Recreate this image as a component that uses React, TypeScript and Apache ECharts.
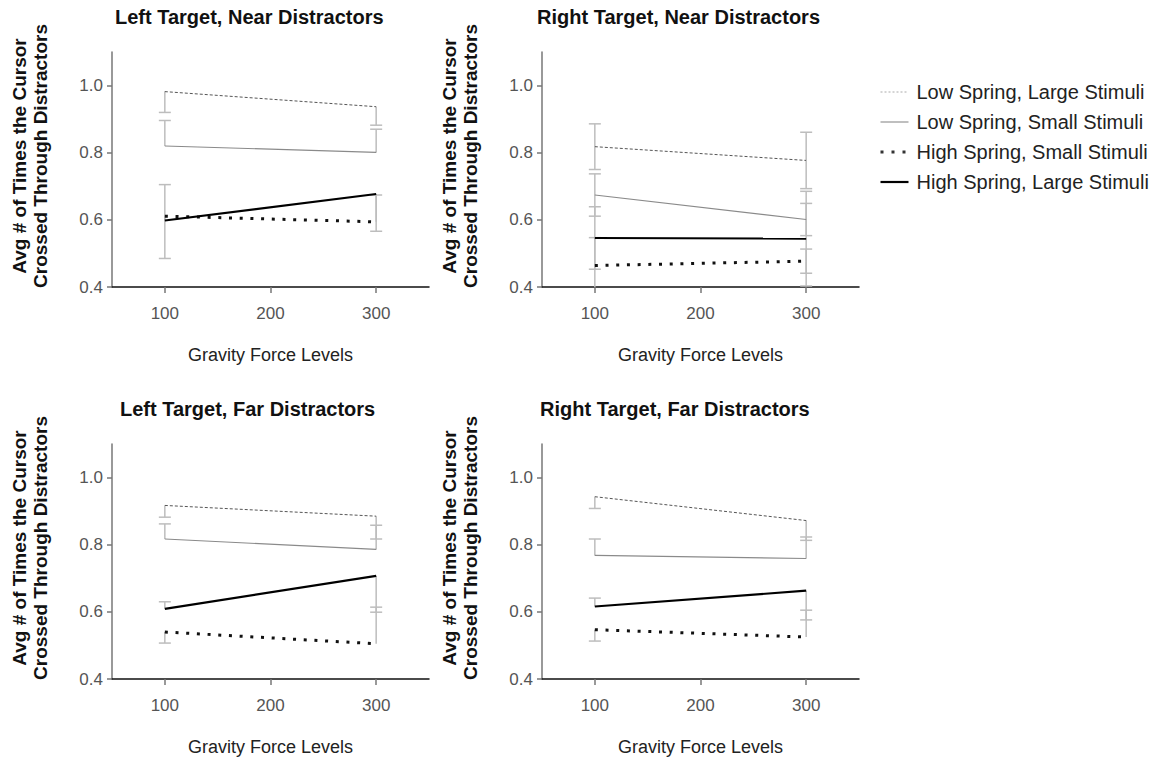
import React, { useEffect, useRef } from "react";
import * as echarts from "echarts";

const gravityLevels = [100, 300];
const xTickValues = [100, 200, 300];
const yTickValues = [0.4, 0.6, 0.8, 1.0];

const seriesNames = [
  "Low Spring, Large Stimuli",
  "Low Spring, Small Stimuli",
  "High Spring, Small Stimuli",
  "High Spring, Large Stimuli",
];

const panelTitles = [
  "Left Target, Near Distractors",
  "Right Target, Near Distractors",
  "Left Target, Far Distractors",
  "Right Target, Far Distractors",
];

const yAxisTitle = "Avg # of Times the Cursor\nCrossed Through Distractors";
const xAxisTitle = "Gravity Force Levels";

// means, order: LSL, LSS, HSS, HSL ; values at gravity 100 and 300
const leftNearMeans = [[0.982, 0.937], [0.820, 0.801], [0.611, 0.594], [0.598, 0.677]];
const rightNearMeans = [[0.818, 0.777], [0.674, 0.601], [0.464, 0.477], [0.546, 0.544]];
const leftFarMeans = [[0.917, 0.885], [0.817, 0.786], [0.540, 0.505], [0.609, 0.707]];
const rightFarMeans = [[0.943, 0.872], [0.768, 0.759], [0.547, 0.525], [0.616, 0.663]];

// error bar ends (capped ends), per series, per gravity level
const leftNearErrEnds = [[[0.920], [0.882]], [[0.896], [0.870]], [[0.485], [0.674]], [[0.705], [0.566]]];
const rightNearErrEnds = [
  [[0.886, 0.750], [0.861, 0.693]],
  [[0.737, 0.611], [0.649, 0.553]],
  [[0.547, 0.381], [0.513, 0.441]],
  [[0.639, 0.453], [0.685, 0.403]],
];
const leftFarErrEnds = [[[0.882], [0.817]], [[0.862], [0.858]], [[0.507], [0.614]], [[0.630], [0.599]]];
const rightFarErrEnds = [[[0.908], [0.813]], [[0.817], [0.823]], [[0.513], [0.605]], [[0.641], [0.576]]];

const panelMeans = [leftNearMeans, rightNearMeans, leftFarMeans, rightFarMeans];
const panelErrEnds = [leftNearErrEnds, rightNearErrEnds, leftFarErrEnds, rightFarErrEnds];

const FONT = "'Liberation Sans', Arial, Helvetica, sans-serif";
const Y_MIN = 0.4;
const Y_MAX = 1.1;

const grids = [
  { left: 112, top: 52, width: 317, height: 235 },
  { left: 542, top: 52, width: 317, height: 235 },
  { left: 112, top: 444, width: 317, height: 235 },
  { left: 542, top: 444, width: 317, height: 235 },
];
const titlePos = [
  { left: 115, top: 7 },
  { left: 537, top: 7 },
  { left: 120, top: 399 },
  { left: 540, top: 399 },
];
const yNamePos = [
  { x: 30, y: 156 },
  { x: 460, y: 156 },
  { x: 30, y: 548 },
  { x: 460, y: 548 },
];

const lineStyles = [
  { color: "#555", width: 1, type: [3, 2] },
  { color: "#8a8a8a", width: 1.2, type: "solid" },
  { color: "#111", width: 3, type: [3, 7.7] },
  { color: "#000", width: 2.2, type: "solid" },
];
const legendLineStyles = [
  { color: "#aaa", width: 1, type: [2, 2] },
  { color: "#aaa", width: 1.5, type: "solid" },
  { color: "#333", width: 3, type: [3, 8] },
  { color: "#000", width: 2.2, type: "solid" },
];

export default function App() {
  const ref = useRef<HTMLDivElement>(null);
  useEffect(() => {
    if (!ref.current) return;
    const chart = echarts.init(ref.current, undefined, { renderer: "svg" });

    const xAxes = grids.map((_, i) => ({
      type: "value",
      gridIndex: i,
      min: 50,
      max: 350,
      name: xAxisTitle,
      nameLocation: "middle",
      nameGap: 59,
      nameTextStyle: { fontSize: 18, color: "#222", fontFamily: FONT },
      splitLine: { show: false },
      axisLine: { lineStyle: { color: "#111", width: 1.5 } },
      axisTick: { customValues: xTickValues, length: 6, lineStyle: { color: "#777", width: 1.5 } },
      axisLabel: { customValues: xTickValues, margin: 18, fontSize: 17, color: "#555", fontFamily: FONT },
    }));
    const yAxes = grids.map((_, i) => ({
      type: "value",
      gridIndex: i,
      min: Y_MIN,
      max: Y_MAX,
      splitLine: { show: false },
      axisLine: { show: true, lineStyle: { color: "#777", width: 1.5 } },
      axisTick: { show: true, customValues: yTickValues, length: 5, lineStyle: { color: "#777", width: 1.5 } },
      axisLabel: {
        customValues: yTickValues,
        margin: 9,
        fontSize: 17,
        color: "#555",
        fontFamily: FONT,
        formatter: (v: number) => v.toFixed(1),
      },
    }));

    const series: any[] = [];
    panelMeans.forEach((means, p) => {
      const errData: number[][] = [];
      panelErrEnds[p].forEach((perSeries, s) => {
        perSeries.forEach((ends, li) => {
          ends.forEach((e) => errData.push([gravityLevels[li], means[s][li], e]));
        });
      });
      series.push({
        type: "custom",
        name: "err" + p,
        xAxisIndex: p,
        yAxisIndex: p,
        z: 1,
        silent: true,
        data: errData,
        renderItem: (params: any, api: any) => {
          const x = api.value(0);
          const m = api.value(1);
          const e = api.value(2);
          const clamped = Math.max(Y_MIN, Math.min(Y_MAX, e));
          const p0 = api.coord([x, m]);
          const p1 = api.coord([x, clamped]);
          const style = { stroke: "#bdbdbd", lineWidth: 1.5 };
          const children: any[] = [
            { type: "line", shape: { x1: p0[0], y1: p0[1], x2: p1[0], y2: p1[1] }, style },
          ];
          if (clamped === e) {
            children.push({ type: "line", shape: { x1: p1[0] - 6, y1: p1[1], x2: p1[0] + 6, y2: p1[1] }, style });
          }
          return { type: "group", children };
        },
      });
      means.forEach((vals, s) => {
        series.push({
          type: "line",
          name: seriesNames[s],
          xAxisIndex: p,
          yAxisIndex: p,
          z: 3,
          symbol: "none",
          showSymbol: false,
          itemStyle: { color: lineStyles[s].color },
          lineStyle: lineStyles[s],
          data: vals.map((v, li) => [gravityLevels[li], v]),
        });
      });
    });

    const graphics = yNamePos.map((pos) => ({
      type: "text",
      x: pos.x,
      y: pos.y,
      rotation: Math.PI / 2,
      style: {
        text: yAxisTitle,
        fontSize: 19,
        fontWeight: "bold",
        fontFamily: FONT,
        fill: "#111",
        textAlign: "center",
        textVerticalAlign: "middle",
        lineHeight: 21,
      },
    }));

    chart.setOption({
      animation: false,
      backgroundColor: "#fff",
      title: panelTitles.map((t, i) => ({
        text: t,
        left: titlePos[i].left,
        top: titlePos[i].top,
        padding: 0,
        textStyle: { fontSize: 20, fontWeight: "bold", color: "#111", fontFamily: FONT },
      })),
      legend: {
        data: seriesNames.map((n, i) => ({ name: n, lineStyle: legendLineStyles[i] })),
        orient: "vertical",
        left: 874,
        top: 77,
        itemWidth: 28,
        itemHeight: 14,
        itemGap: 10,
        itemStyle: { opacity: 0 },
        textStyle: { fontSize: 20, color: "#222", fontFamily: FONT, padding: [0, 0, 0, 3] },
      },
      grid: grids,
      xAxis: xAxes,
      yAxis: yAxes,
      series,
      graphic: graphics,
    });
    return () => chart.dispose();
  }, []);
  return <div ref={ref} style={{ position: "fixed", left: 0, top: 0, width: 1170, height: 757 }} />;
}
